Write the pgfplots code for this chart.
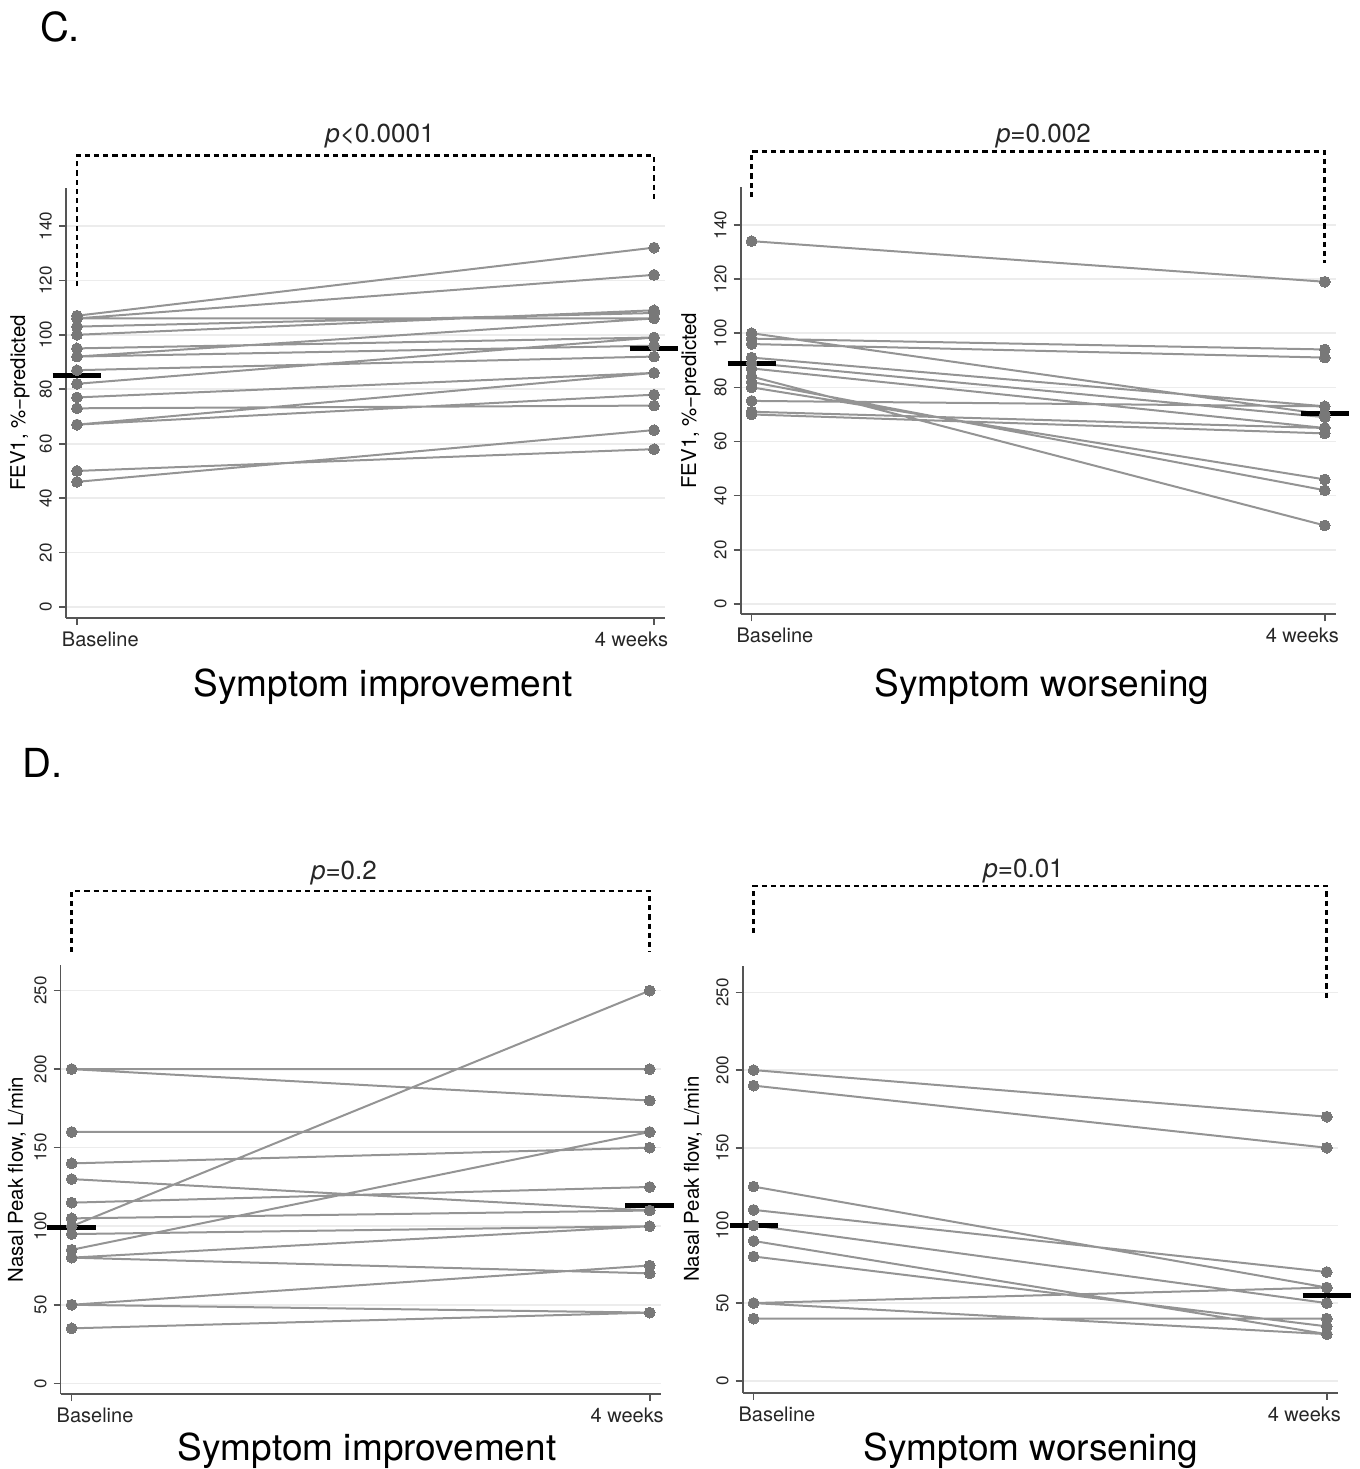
\documentclass[border=0pt]{standalone}
\usepackage{fontspec}
\setmainfont{TeX Gyre Heros}
\usepackage{pgfplots}
\pgfplotsset{compat=1.18}
\definecolor{linegray}{RGB}{148,148,148}
\definecolor{dotgray}{RGB}{120,120,120}
\definecolor{axisgray}{RGB}{85,85,85}
\definecolor{gridgray}{RGB}{236,236,236}

\pgfplotsset{
  panel/.style={
    scale only axis, anchor=south west, clip=false,
    axis lines*=left, xmin=-0.019, xmax=1.019,
    xtick={0,1},
    xticklabels={\makebox[0pt][l]{\hspace{-7.5pt}Baseline},\makebox[0pt][r]{4 weeks\hspace{-7pt}}},
    tick align=outside, major tick length=3.5pt,
    axis line style={axisgray, line width=0.8pt},
    tick style={axisgray, line width=0.8pt},
    ymajorgrids, grid style={gridgray, line width=0.8pt},
    /pgf/number format/assume math mode=true,
    yticklabel style={rotate=90, anchor=south, font=\fontsize{8.5}{8.5}\selectfont, text=black!85},
    xticklabel style={font=\fontsize{10}{10}\selectfont, text=black!85},
    ylabel style={rotate=0, anchor=center, font=\fontsize{10.2}{10.2}\selectfont},
  },
  pairs/.style={linegray, line width=1pt, unbounded coords=jump,
    mark=*, mark size=2.7pt, mark options={draw=dotgray, fill=dotgray, line width=0pt}},
  meanbar/.style={black, line width=2.5pt, mark=none},
  bracket/.style={black, line width=1.4pt, dash pattern=on 2.6pt off 2pt, mark=none},
}
\tikzset{
  ptext/.style={font=\fontsize{13}{13}\selectfont, anchor=base, text=black!85},
  ttl/.style={anchor=base, font=\fontsize{18.5}{18.5}\selectfont},
}

\begin{document}
\begin{tikzpicture}
\path[use as bounding box] (0,0) rectangle (680pt,734.5pt);

% C, symptom improvement
\begin{axis}[panel, at={(33pt,425.5pt)}, width=299.5pt, height=215pt,
  ymin=-4, ymax=153.9, ytick={0,20,...,140},
  ylabel={FEV1, \%−predicted},
  ylabel style={at={(axis description cs:-0.077,0.5)}}]
\addplot[pairs] coordinates {
  (0,107) (1,132) (0,nan) (0,106) (1,122) (0,nan) (0,106) (1,106) (0,nan)
  (0,103) (1,108) (0,nan) (0,100) (1,109) (0,nan) (0,95) (1,99) (0,nan)
  (0,92) (1,106) (0,nan) (0,92) (1,96) (0,nan) (0,87) (1,92) (0,nan)
  (0,82) (1,99) (0,nan) (0,77) (1,86) (0,nan) (0,73) (1,74) (0,nan)
  (0,67) (1,86) (0,nan) (0,67) (1,78) (0,nan) (0,50) (1,58) (0,nan)
  (0,46) (1,65)};
\addplot[meanbar] coordinates {(-0.042,85) (0.042,85)};
\addplot[meanbar] coordinates {(0.958,95) (1.042,95)};
\addplot[bracket] coordinates {(0,117.9) (0,165.7) (1,165.7) (1,148.8)};
\node[ptext] at (axis cs:0.525,170.5) {\textit{p}<0.0001};
\end{axis}

% C, symptom worsening
\begin{axis}[panel, at={(370.35pt,427.35pt)}, width=297.5pt, height=213.65pt,
  ymin=-3.8, ymax=154, ytick={0,20,...,140},
  ylabel={FEV1, \%−predicted},
  ylabel style={at={(axis description cs:-0.0835,0.5)}}]
\addplot[pairs] coordinates {
  (0,134) (1,119) (0,nan) (0,100) (1,70) (0,nan) (0,98) (1,94) (0,nan)
  (0,96) (1,91) (0,nan) (0,91) (1,73) (0,nan) (0,89) (1,69) (0,nan)
  (0,87) (1,65) (0,nan) (0,84) (1,29) (0,nan) (0,82) (1,42) (0,nan)
  (0,80) (1,46) (0,nan) (0,75) (1,73) (0,nan) (0,71) (1,65) (0,nan)
  (0,70) (1,63)};
\addplot[meanbar] coordinates {(-0.042,89) (0.042,89)};
\addplot[meanbar] coordinates {(0.958,70.5) (1.042,70.5)};
\addplot[bracket] coordinates {(0,150.3) (0,167) (1,167) (1,126)};
\node[ptext] at (axis cs:0.509,170.3) {\textit{p}=0.002};
\end{axis}

% D, symptom improvement
\begin{axis}[panel, at={(30.35pt,37.5pt)}, width=300pt, height=214.5pt,
  ymin=-6.8, ymax=266.3, ytick={0,50,...,250},
  ylabel={Nasal Peak flow, L/min},
  ylabel style={at={(axis description cs:-0.073,0.5)}}]
\addplot[pairs] coordinates {
  (0,200) (1,200) (0,nan) (0,200) (1,180) (0,nan) (0,160) (1,160) (0,nan)
  (0,140) (1,150) (0,nan) (0,130) (1,110) (0,nan) (0,115) (1,125) (0,nan)
  (0,105) (1,110) (0,nan) (0,100) (1,250) (0,nan) (0,95) (1,100) (0,nan)
  (0,85) (1,160) (0,nan) (0,80) (1,100) (0,nan) (0,80) (1,70) (0,nan)
  (0,50) (1,75) (0,nan) (0,50) (1,45) (0,nan) (0,35) (1,45)};
\addplot[meanbar] coordinates {(-0.042,99) (0.042,99)};
\addplot[meanbar] coordinates {(0.958,113) (1.042,113)};
\addplot[bracket] coordinates {(0,274.6) (0,313.4) (1,313.4) (1,274.6)};
\node[ptext] at (axis cs:0.471,321) {\textit{p}=0.2};
\end{axis}

% D, symptom worsening
\begin{axis}[panel, at={(371.35pt,38.15pt)}, width=297.5pt, height=213.5pt,
  ymin=-7.7, ymax=267.2, ytick={0,50,...,250},
  ylabel={Nasal Peak flow, L/min},
  ylabel style={at={(axis description cs:-0.0835,0.5)}}]
\addplot[pairs] coordinates {
  (0,200) (1,170) (0,nan) (0,190) (1,150) (0,nan) (0,125) (1,60) (0,nan)
  (0,110) (1,70) (0,nan) (0,100) (1,50) (0,nan) (0,90) (1,30) (0,nan)
  (0,80) (1,35) (0,nan) (0,50) (1,60) (0,nan) (0,50) (1,30) (0,nan)
  (0,40) (1,40)};
\addplot[meanbar] coordinates {(-0.042,100) (0.042,100)};
\addplot[meanbar] coordinates {(0.958,55) (1.042,55)};
\addplot[bracket] coordinates {(0,288.3) (0,318.5) (1,318.5) (1,245.1)};
\node[ptext] at (axis cs:0.471,323.7) {\textit{p}=0.01};
\end{axis}

% titles and panel letters
\node[ttl] at (191.5pt,386pt) {Symptom improvement};
\node[ttl] at (521pt,386pt) {Symptom worsening};
\node[ttl] at (183.5pt,4.5pt) {Symptom improvement};
\node[ttl] at (515.5pt,4.5pt) {Symptom worsening};
\node[anchor=base, font=\fontsize{20}{20}\selectfont] at (30pt,713.5pt) {C.};
\node[anchor=base, font=\fontsize{20}{20}\selectfont] at (21.5pt,345.5pt) {D.};
\end{tikzpicture}
\end{document}
